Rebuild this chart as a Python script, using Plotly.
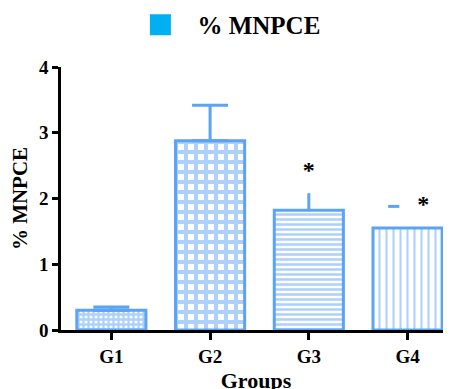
import plotly.graph_objects as go

groups = ["G1", "G2", "G3", "G4"]
means = [0.30, 2.88, 1.82, 1.55]
err_plus = [0.05, 0.54, 0.26, 0.0]
g4_dash_value = 1.88
star_groups = ["G3", "G4"]
star_values = [2.40, 1.89]
y_ticks = [0, 1, 2, 3, 4]

BLUE = "#5ba3f5"
LEG = "#00b0f0"
FONT = "Liberation Serif"

xpos = list(range(len(groups)))

patterns = [
    dict(shape="+", fgcolor=BLUE, bgcolor="white", size=5, solidity=0.7),
    dict(shape="+", fgcolor=BLUE, bgcolor="white", size=10, solidity=0.65),
    dict(shape="-", fgcolor=BLUE, bgcolor="white", size=5, solidity=0.5),
    dict(shape="|", fgcolor=BLUE, bgcolor="white", size=7, solidity=0.3),
]

fig = go.Figure()
for i, g in enumerate(groups):
    fig.add_trace(go.Bar(
        x=[xpos[i]], y=[means[i]], width=0.70,
        marker=dict(color="white", line=dict(color=BLUE, width=3), pattern=patterns[i]),
        showlegend=False, hoverinfo="skip",
    ))

# error bars with caps (G1, G2)
fig.add_trace(go.Scatter(
    x=xpos[:2], y=means[:2], mode="markers", marker=dict(size=0.1, color=BLUE),
    error_y=dict(type="data", array=err_plus[:2], arrayminus=[0, 0], color=BLUE, thickness=3, width=18),
    showlegend=False, hoverinfo="skip",
))
# G3 error bar without cap
fig.add_trace(go.Scatter(
    x=[xpos[2]], y=[means[2]], mode="markers", marker=dict(size=0.1, color=BLUE),
    error_y=dict(type="data", array=[err_plus[2]], arrayminus=[0], color=BLUE, thickness=3, width=0),
    showlegend=False, hoverinfo="skip",
))
# G4 stray dash
fig.add_trace(go.Scatter(
    x=[xpos[3] - 0.14], y=[g4_dash_value], mode="markers",
    marker=dict(symbol="line-ew", size=8, line=dict(color=BLUE, width=3)),
    showlegend=False, hoverinfo="skip",
))
# asterisks
star_x = [groups.index(g) for g in star_groups]
star_x = [star_x[0], star_x[1] + 0.16]
fig.add_trace(go.Scatter(
    x=star_x, y=star_values, mode="text", text=["*"] * len(star_values),
    textfont=dict(family=FONT, size=24, color="black", weight="bold"),
    showlegend=False, hoverinfo="skip",
))
# legend entry
fig.add_trace(go.Scatter(
    x=[None], y=[None], mode="markers", name="% MNPCE",
    marker=dict(symbol="square", size=16, color=LEG, line=dict(color=LEG, width=5)),
))

# page body has an 8px margin: figure sized/offset so the plot area matches the reference
fig.update_layout(
    width=443, height=385,
    margin=dict(l=53, r=0, t=59, b=63, autoexpand=False),
    paper_bgcolor="white", plot_bgcolor="white",
    font=dict(family=FONT, color="black"),
    showlegend=True,
    legend=dict(orientation="h", x=0.16, xanchor="left", y=1.16, yanchor="middle",
                font=dict(family=FONT, size=25, weight="bold"), itemwidth=64),
)
fig.update_xaxes(
    range=[-0.51, 3.44], tickvals=xpos, ticktext=groups,
    showline=True, linecolor="black", linewidth=2.5,
    ticks="outside", ticklen=7, tickwidth=2.5, tickcolor="black",
    tickfont=dict(family=FONT, size=19, weight="bold"),
    title=dict(text="Groups", font=dict(family=FONT, size=22, weight="bold"), standoff=13),
    showgrid=False, zeroline=False, fixedrange=True,
)
fig.update_yaxes(
    range=[0, 4], tickvals=y_ticks,
    showline=True, linecolor="black", linewidth=2.5,
    ticks="outside", ticklen=6, tickwidth=2.5, tickcolor="black",
    tickfont=dict(family=FONT, size=19, weight="bold"),
    title=dict(text="% MNPCE", font=dict(family=FONT, size=21, weight="bold"), standoff=8),
    showgrid=False, zeroline=False, fixedrange=True,
)

fig.write_html("out.html")
